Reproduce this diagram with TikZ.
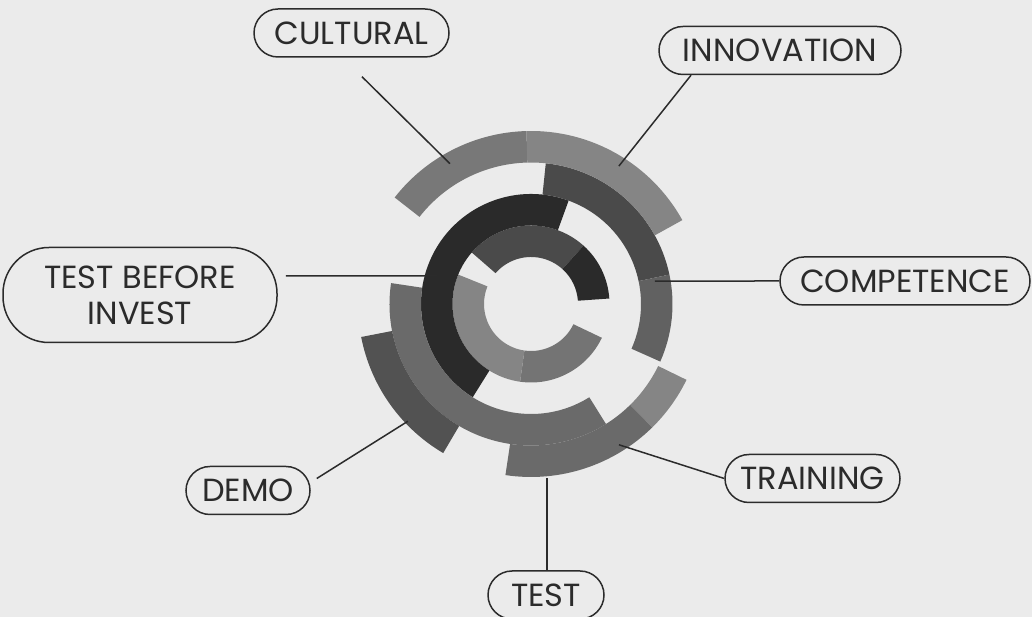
\documentclass[tikz,border=0pt]{standalone}
\usepackage{fontspec}
\setmainfont{Poppins}
\usetikzlibrary{calc}

\definecolor{paper}{HTML}{EBEBEB}
\definecolor{ink}{HTML}{2B2B2B}
\definecolor{grayA}{HTML}{858585}
\definecolor{grayB}{HTML}{787878}
\definecolor{grayC}{HTML}{747474}
\definecolor{grayD}{HTML}{6A6A6A}
\definecolor{grayE}{HTML}{616161}
\definecolor{grayF}{HTML}{525252}
\definecolor{grayG}{HTML}{4A4A4A}
\definecolor{grayH}{HTML}{2A2A2A}

% ring piece: colour, start angle, end angle, inner radius, outer radius
\newcommand{\ringseg}[5]{%
  \fill[#1] ($(hub)+(#2:#5)$) arc[start angle=#2, end angle=#3, radius=#5]
    -- ($(hub)+(#3:#4)$) arc[start angle=#3, end angle=#2, radius=#4] -- cycle;}

\begin{document}
\begin{tikzpicture}[x=1pt,y=1pt,
  tag/.style={draw=ink, line width=1.5pt, rounded corners=24pt, minimum height=48pt,
    inner sep=0pt, text=ink, font=\fontsize{32}{36}\selectfont},
  pin/.style={draw=ink, line width=1.5pt}]
\fill[paper] (0,0) rectangle (1032,617);
\useasboundingbox (0,0) rectangle (1032,617);

\coordinate (hub) at (531,313);

% ring 1
\ringseg{grayC}{-98}{-25.5}{47pt}{78.5pt}
\ringseg{grayA}{158}{262}{47pt}{78.5pt}
\ringseg{grayG}{48}{139}{47pt}{78.5pt}
\ringseg{grayH}{4}{48}{47pt}{78.5pt}
% ring 2
\ringseg{grayH}{70}{238}{78.5pt}{110pt}
% ring 3
\ringseg{grayG}{12}{84}{110pt}{141.5pt}
\ringseg{grayE}{-24}{12}{110pt}{141.5pt}
\ringseg{grayD}{171.5}{302}{110pt}{141.5pt}
% ring 4
\ringseg{grayB}{91.5}{142}{141.5pt}{173pt}
\ringseg{grayA}{29}{91.5}{141.5pt}{173pt}
\ringseg{grayA}{-45.5}{-26}{141.5pt}{173pt}
\ringseg{grayD}{-98.5}{-45.5}{141.5pt}{173pt}
\ringseg{grayF}{191}{239.5}{141.5pt}{173pt}

% labels
\node[tag, minimum width=195pt] (cultural) at (351.5,584) {CULTURAL};
\node[tag, minimum width=242pt] (innovation) at (780,566.5) {INNOVATION};
\node[tag, minimum width=250pt] (competence) at (905,336) {COMPETENCE};
\node[tag, minimum width=274pt, minimum height=95pt, rounded corners=46pt,
  align=center] (tbi) at (140,322) {TEST BEFORE\\INVEST};
\node[tag, minimum width=124pt] (demo) at (248,126.5) {DEMO};
\node[tag, minimum width=175pt] (training) at (812.5,138.5) {TRAINING};
\node[tag, minimum width=116pt] (test) at (546,22) {TEST};

% pins on the rings
\coordinate (cultural-pin) at ($(hub)+(120:162pt)$);
\coordinate (innovation-pin) at ($(hub)+(57.5:163.5pt)$);
\coordinate (competence-pin) at ($(hub)+(10.5:126pt)$);
\coordinate (tbi-pin) at ($(hub)+(163.4:98pt)$);
\coordinate (demo-pin) at ($(hub)+(223.6:170pt)$);
\coordinate (training-pin) at ($(hub)+(-58:166pt)$);
\coordinate (test-pin) at ($(hub)+(-84.8:175pt)$);

\draw[pin] ($(cultural.south)+(10.5pt,-19pt)$) -- (cultural-pin);
\draw[pin] ($(innovation.south)+(-89pt,0)$) -- (innovation-pin);
\draw[pin] (competence-pin) -- (competence.west);
\draw[pin] ($(tbi.east)+(8pt,19pt)$) -- (tbi-pin);
\draw[pin] ($(demo.east)+(6pt,12pt)$) -- (demo-pin);
\draw[pin] (training-pin) -- (training.west);
\draw[pin] (test-pin) -- (test-pin |- test.north);
\end{tikzpicture}
\end{document}
